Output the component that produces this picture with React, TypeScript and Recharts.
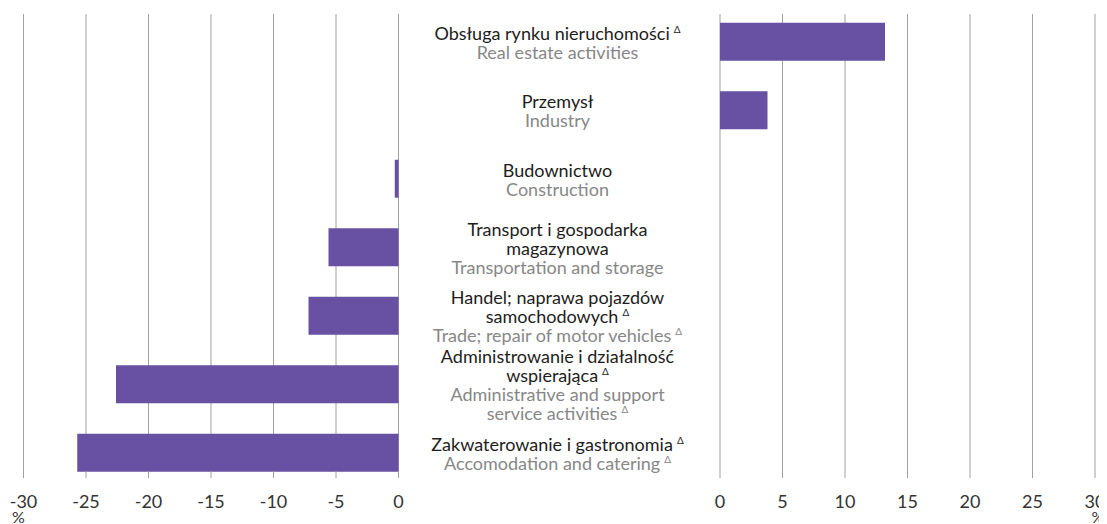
import { Bar, BarChart, CartesianGrid, XAxis, YAxis } from "recharts";

const sectors = [
  "realEstate",
  "industry",
  "construction",
  "transport",
  "trade",
  "admin",
  "accommodation",
];
const values = [13.2, 3.8, -0.3, -5.6, -7.2, -22.6, -25.7];
const plLabels = [
  ["Obsługa rynku nieruchomości"],
  ["Przemysł"],
  ["Budownictwo"],
  ["Transport i gospodarka", "magazynowa"],
  ["Handel; naprawa pojazdów", "samochodowych"],
  ["Administrowanie i działalność", "wspierająca"],
  ["Zakwaterowanie i gastronomia"],
];
const enLabels = [
  ["Real estate activities"],
  ["Industry"],
  ["Construction"],
  ["Transportation and storage"],
  ["Trade; repair of motor vehicles"],
  ["Administrative and support", "service activities"],
  ["Accomodation and catering"],
];
const plDelta = [true, false, false, false, true, true, true];
const enDelta = [false, false, false, false, true, true, true];
const leftTicks = [-30, -25, -20, -15, -10, -5, 0];
const rightTicks = [0, 5, 10, 15, 20, 25, 30];

const data = sectors.map((name, i) => ({
  name,
  neg: values[i] < 0 ? values[i] : null,
  pos: values[i] > 0 ? values[i] : null,
}));

const FONT = "Lato, 'Open Sans', sans-serif";
const BAR = "#6851a2";
const GRID = "#a0a0a0";
const LINE_H = 19;
const yPad = { top: -6.25, bottom: -16.25 };

function LabelTick(props: any) {
  const { x, y, payload } = props;
  const i = sectors.indexOf(payload.value);
  if (i < 0) return null;
  const lines: { text: string; color: string; delta: boolean }[] = [];
  plLabels[i].forEach((t, k) =>
    lines.push({ text: t, color: "#1d1d1b", delta: plDelta[i] && k === plLabels[i].length - 1 })
  );
  enLabels[i].forEach((t, k) =>
    lines.push({ text: t, color: "#878787", delta: enDelta[i] && k === enLabels[i].length - 1 })
  );
  const cx = x + 159;
  const top = y + 1 - ((lines.length - 1) * LINE_H) / 2;
  return (
    <g>
      {lines.map((l, k) => (
        <text
          key={k}
          x={cx}
          y={top + k * LINE_H}
          dy="0.35em"
          textAnchor="middle"
          fontSize={18}
          fontFamily={FONT}
          fill={l.color}
        >
          {l.text}
          {l.delta && (
            <tspan fontSize={10} dx={4} dy={-7}>
              Δ
            </tspan>
          )}
        </text>
      ))}
    </g>
  );
}

function ValueTick(props: any) {
  const { x, y, payload, edge } = props;
  const v = payload.value;
  return (
    <g>
      <text x={x} y={y + 30} textAnchor="middle" fontSize={18} fontFamily={FONT} fill="#333">
        {v}
      </text>
      {v === edge && (
        <text
          x={edge < 0 ? x - 5 : x + 3}
          y={y + 45}
          textAnchor="middle"
          fontSize={16}
          fontFamily={FONT}
          fill="#333"
        >
          %
        </text>
      )}
    </g>
  );
}

export default function App() {
  return (
    <div style={{ position: "relative", width: 1091, height: 516 }}>
      <style>{"body{overflow:hidden} .recharts-surface{overflow:visible}"}</style>
      <div style={{ position: "absolute", left: 0, top: 0 }}>
        <BarChart
          width={712}
          height={516}
          data={data}
          layout="vertical"
          margin={{ top: 6, right: 0, bottom: 13, left: 15.5 }}
        >
          <CartesianGrid horizontal={false} stroke={GRID} />
          <XAxis
            type="number"
            domain={[-30, 0]}
            ticks={leftTicks}
            axisLine={false}
            tickLine={{ stroke: GRID }}
            tickSize={7}
            tickMargin={0}
            height={40}
            tick={<ValueTick edge={-30} />}
          />
          <YAxis
            type="category"
            dataKey="name"
            orientation="right"
            width={321.5}
            axisLine={false}
            tickLine={false}
            tickSize={0}
            tickMargin={0}
            interval={0}
            padding={yPad}
            tick={<LabelTick />}
          />
          <Bar dataKey="neg" fill={BAR} barSize={38} isAnimationActive={false} />
        </BarChart>
      </div>
      <div style={{ position: "absolute", left: 702, top: 0 }}>
        <BarChart
          width={397}
          height={516}
          data={data}
          layout="vertical"
          margin={{ top: 6, right: 12, bottom: 13, left: 10 }}
        >
          <CartesianGrid horizontal={false} stroke={GRID} />
          <XAxis
            type="number"
            domain={[0, 30]}
            ticks={rightTicks}
            axisLine={false}
            tickLine={{ stroke: GRID }}
            tickSize={7}
            tickMargin={0}
            height={40}
            tick={<ValueTick edge={30} />}
          />
          <YAxis type="category" dataKey="name" hide padding={yPad} />
          <Bar dataKey="pos" fill={BAR} barSize={38} isAnimationActive={false} />
        </BarChart>
      </div>
    </div>
  );
}
